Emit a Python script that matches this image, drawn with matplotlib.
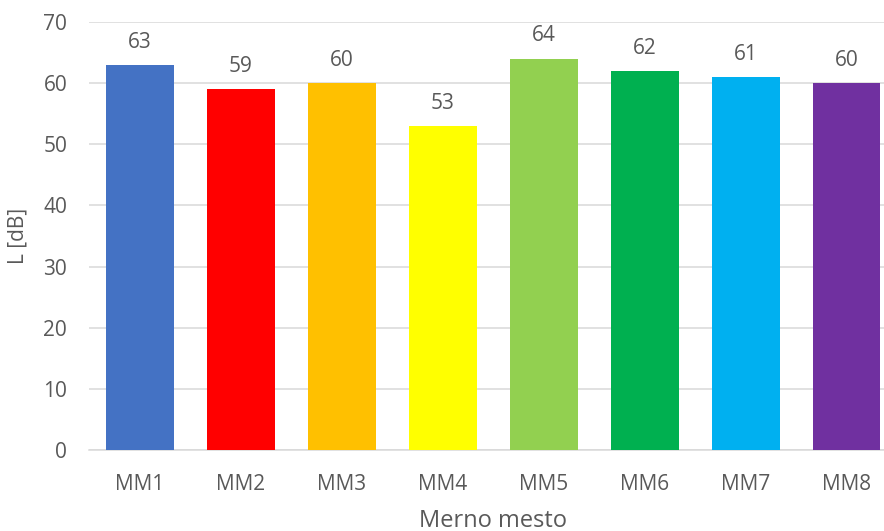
import matplotlib
matplotlib.use("Agg")
import matplotlib.pyplot as plt
import numpy as np

plt.rcParams['font.family'] = ['Open Sans', 'DejaVu Sans']

mesta = ["MM1", "MM2", "MM3", "MM4", "MM5", "MM6", "MM7", "MM8"]
nivo = [63, 59, 60, 53, 64, 62, 61, 60]
boje = ["#4472C4", "#FF0000", "#FFC000", "#FFFF00",
        "#92D050", "#00B050", "#00B0F0", "#7030A0"]

txt = "#595959"

fig = plt.figure(figsize=(8.84, 5.31), dpi=100)
ax = fig.add_axes([0.1012, 0.1525, 0.9135, 0.806])

x = np.arange(len(mesta))
bars = ax.bar(x, nivo, width=0.673, color=boje, zorder=3)
for b, v in zip(bars, nivo):
    ax.text(b.get_x() + b.get_width() / 2, v + 2.0, str(v),
            ha='center', va='bottom', fontsize=15, color=txt)

ax.set_xlim(-0.5, len(mesta) - 0.5)
ax.set_ylim(0, 70)
ax.set_yticks(np.arange(0, 71, 10))
ax.set_xticks(x)
ax.set_xticklabels(mesta)
ax.grid(axis='y', color='#D9D9D9', linewidth=1.1, zorder=0)
for s in ['top', 'right', 'left']:
    ax.spines[s].set_visible(False)
ax.spines['bottom'].set_color('#D9D9D9')
ax.spines['bottom'].set_linewidth(1.1)
ax.tick_params(length=0, labelsize=15, labelcolor=txt)
ax.tick_params(axis='x', pad=17)
ax.tick_params(axis='y', pad=16)

ax.set_xlabel("Merno mesto", fontsize=17, color=txt, labelpad=10)
ax.set_ylabel("L [dB]", fontsize=15, color=txt, labelpad=11)

fig.savefig("out.png", dpi=100)
